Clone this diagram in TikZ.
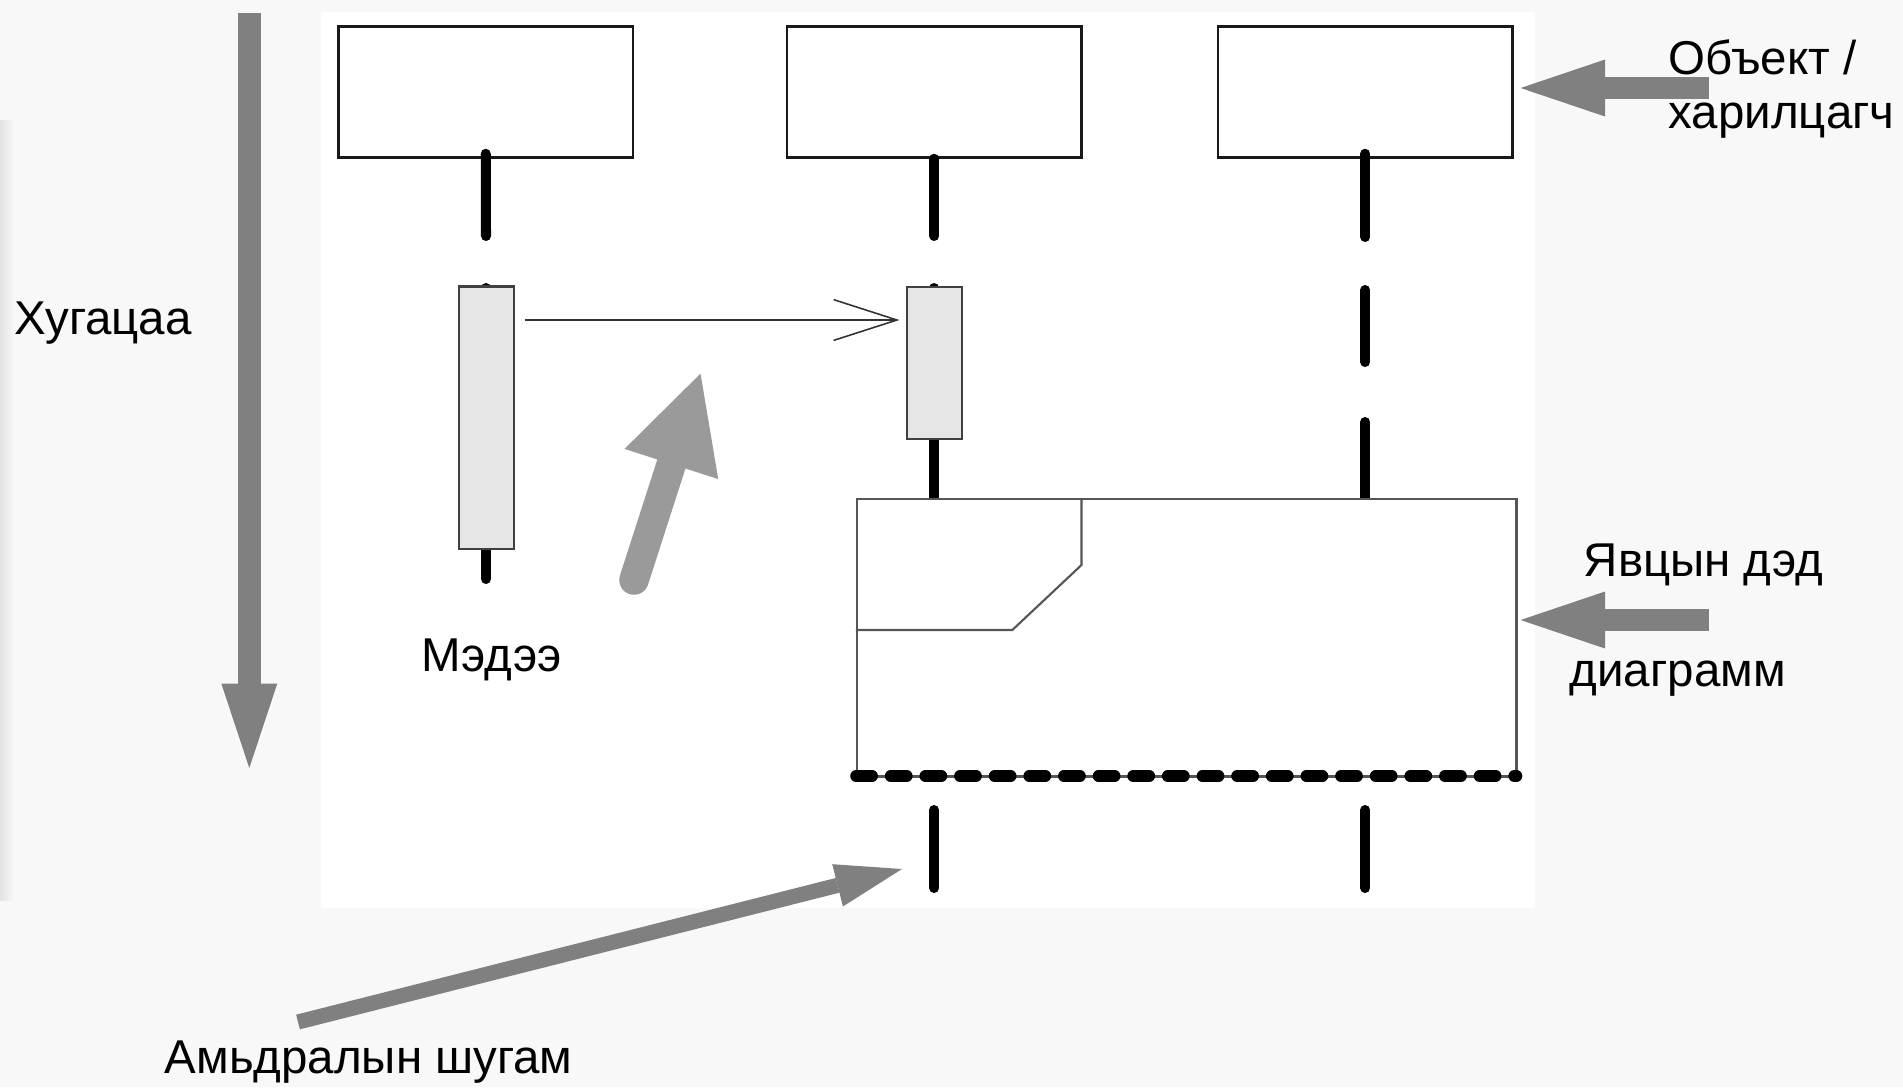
\documentclass[tikz,border=0pt]{standalone}
\usepackage{fontspec}
\setmainfont{Liberation Sans}
\usetikzlibrary{arrows.meta,calc}
\definecolor{annot}{HTML}{808080}
\definecolor{annotlight}{HTML}{9A9A9A}
\definecolor{actfill}{HTML}{E6E6E6}
\definecolor{bgcol}{HTML}{F8F8F8}
\definecolor{framecol}{HTML}{555555}
\begin{document}
\begin{tikzpicture}[x=0.01cm,y=-0.01cm,
  objbox/.style={draw=black!90,line width=0.7pt,fill=white,inner sep=0,minimum width=2.945cm,minimum height=1.31cm},
  actbox/.style={draw=black!75,line width=0.6pt,fill=actfill,inner sep=0,minimum width=0.555cm},
  life/.style={line width=2.85pt,line cap=round,black},
  msg/.style={draw=black!80,line width=0.45pt,-{Straight Barb[length=18pt,width=11.6pt,line width=0.45pt]}},
  bigarrow/.style={annot,line width=6.2pt,-{Triangle[length=24pt,width=16.2pt,line width=0pt]}},
  lbl/.style={inner sep=0,anchor=base west,font=\fontsize{13.5}{16}\selectfont}
]
\useasboundingbox (0,0) rectangle (1903,1087);
% background
\fill[bgcol] (0,0) rectangle (1903,1087);
\shade[left color=gray!22,right color=bgcol] (0,120) rectangle (14,900);
\fill[white] (321,12) rectangle (1535,908);

% object boxes
\node[objbox] (o1) at (485.75,92) {};
\node[objbox] (o2) at (934.3,92) {};
\node[objbox] (o3) at (1365.3,92) {};

% lifeline coordinates
\coordinate (l1a) at (486,236);
\coordinate (l1b) at (486,288);
\coordinate (l1c) at (486,579);
\coordinate (l2a) at (934.3,236);
\coordinate (l2b) at (934.3,288);
\coordinate (l2c) at (934.3,499);
\coordinate (l3a) at (1365.3,237);
\coordinate (l3b) at (1365.3,290);
\coordinate (l3c) at (1365.3,362);
\coordinate (l3d) at (1365.3,422);
\coordinate (l3e) at (1365.3,499);
\coordinate (l2f) at (934.3,810);
\coordinate (l2g) at (934.3,888);
\coordinate (l3f) at (1365.3,810);
\coordinate (l3g) at (1365.3,888);

\draw[life] ([yshift=0.05cm]o1.south) -- (l1a);
\draw[life] (o2.south) -- (l2a);
\draw[life] ([yshift=0.05cm]o3.south) -- (l3a);
\draw[life] (l1b) -- (l1c);
\draw[life] (l2b) -- (l2c);
\draw[life] (l3b) -- (l3c);
\draw[life] (l3d) -- (l3e);
\draw[life] (l2f) -- (l2g);
\draw[life] (l3f) -- (l3g);

% activation boxes
\node[actbox,minimum height=2.62cm] (act1) at (486.5,417.6) {};
\node[actbox,minimum height=1.52cm] (act2) at (934.6,362.6) {};

% message
\coordinate (ms) at (524.5,320);
\coordinate (me) at (899.5,320);
\draw[msg] (ms) -- (me);

% combined fragment
\node[draw=framecol,line width=0.6pt,fill=white,inner sep=0,minimum width=6.593cm,minimum height=2.767cm] (frag) at (1186.65,637.65) {};
\draw[framecol,line width=0.6pt] (1081.5,499.3) -- (1081.5,565) -- (1012.3,630) -- (frag.west |- 0,630);
\draw[framecol,line width=0.6pt] (frag.south west) -- (frag.south east);
\draw[black,line width=3.3pt,line cap=round,dash pattern=on 4.6pt off 5.25pt] (856,776) -- (1516.5,776);

% annotation arrows
\coordinate (ta) at (249.3,12.8);
\coordinate (tb) at (249.3,768);
\draw[annot,line width=6.46pt,-{Triangle[length=24pt,width=15.9pt,line width=0pt]}] (ta) -- (tb);

\coordinate (oa) at (1709,88);
\coordinate (ob) at (1520.6,88);
\draw[bigarrow] (oa) -- (ob);

\coordinate (fa) at (1709,620);
\coordinate (fb) at (1520.6,620);
\draw[bigarrow] (fa) -- (fb);

\coordinate (ma) at (634,580);
\coordinate (mb) at (700.5,373.6);
\draw[annotlight,line width=8.4pt,line cap=round,-{Triangle[length=27pt,width=28pt,line width=0pt]}] (ma) -- (mb);

\coordinate (la) at (298,1022);
\coordinate (lb) at (902,869);
\draw[annot,line width=4.3pt,-{Triangle[length=18.9pt,width=12.4pt,line width=0pt]}] (la) -- (lb);

% labels
\node[lbl] (tTime) at (14,334) {Хугацаа};
\node[lbl] (tMsg) at (421,671) {Мэдээ};
\node[lbl] (tObj1) at (1668,74) {Объект /};
\node[lbl] (tObj2) at (1668,128) {харилцагч};
\node[lbl] (tFr1) at (1583,576) {Явцын дэд};
\node[lbl] (tFr2) at (1569,686) {диаграмм};
\node[lbl] (tLife) at (164,1073) {Амьдралын шугам};
\end{tikzpicture}
\end{document}
